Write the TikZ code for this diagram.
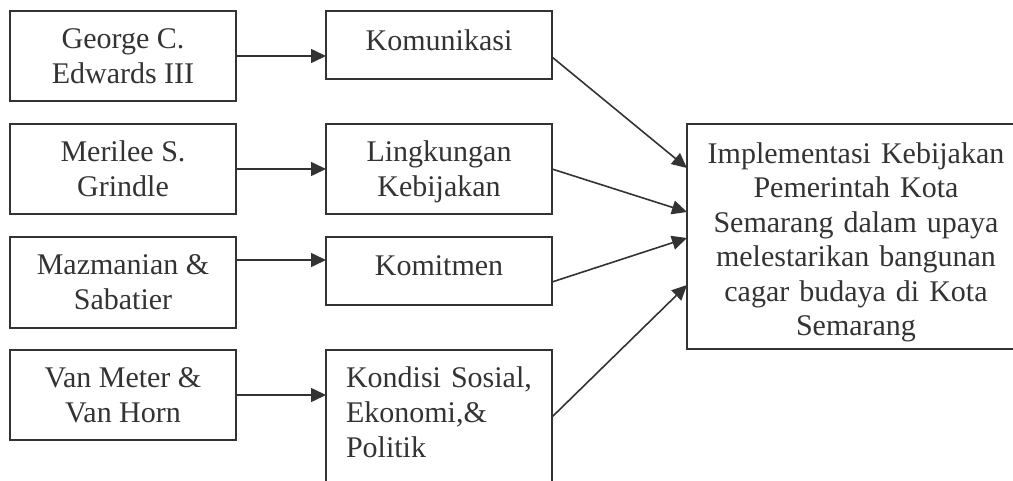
\documentclass[tikz,border=0pt]{standalone}
\usepackage{fontspec}
\setmainfont{Liberation Serif}
\usetikzlibrary{arrows.meta}
\definecolor{linegray}{HTML}{333333}

\begin{document}
\begin{tikzpicture}[x=1pt,y=-1pt,
	box/.style={draw=linegray,text=linegray,line width=1.6pt,inner sep=0pt,outer sep=0pt,
		align=center,minimum width=226pt,font=\fontsize{30}{35}\selectfont},
	link/.style={-{Triangle[length=15pt,width=14pt]},line width=1.6pt,draw=linegray}]
	
	\useasboundingbox (0,0) rectangle (1013,480);
	
	\node[box,minimum height=90pt] (ge) at (123,56)    {George C.\\Edwards III};
	\node[box,minimum height=90pt] (mg) at (123,169)   {Merilee S.\\Grindle};
	\node[box,minimum height=91pt] (ms) at (123,282.5) {Mazmanian \&\\Sabatier};
	\node[box,minimum height=90pt] (vm) at (123,395)   {Van Meter \&\\Van Horn};
	
	\node[box,minimum height=68pt,text depth=10pt] (kom) at (439,45)  {Komunikasi};
	\node[box,minimum height=90pt,text depth=0pt] (lk)  at (439,169) {Lingkungan\\Kebijakan};
	\node[box,minimum height=68pt,text depth=10pt] (kmt) at (439,271) {Komitmen};
	\node[box,align=left,anchor=north west,text width=186pt,inner xsep=20pt,inner ysep=17pt,
		text depth=115pt] (kon) at (326,350) {Kondisi Sosial,\\Ekonomi,\&\\Politik};
	
	\node[box,minimum width=338pt,minimum height=225pt,text width=330pt,text height=32pt,
		font=\fontsize{30}{34.5}\selectfont] (imp) at (856,236.5)
		{Implementasi Kebijakan\\Pemerintah Kota\\Semarang dalam upaya\\melestarikan bangunan\\cagar budaya di Kota\\Semarang};
	
	\path (ge.east) edge[link] (ge.east -| kom.west);
	\path (mg.east) edge[link] (mg.east -| lk.west);
	\path ([yshift=22.5pt]ms.east) edge[link] ([yshift=22.5pt]ms.east -| kmt.west);
	\path (vm.east) edge[link] (vm.east -| kon.west);
	
	\path ([yshift=-12pt]kom.east) edge[link] ([yshift=-44pt]imp.north west);
	\path (lk.east) edge[link] ([yshift=-88pt]imp.north west);
	\path ([yshift=-11pt]kmt.east) edge[link] ([yshift=-114pt]imp.north west);
	\path ([yshift=-67pt]kon.north east) edge[link] ([yshift=-161pt]imp.north west);
	
\end{tikzpicture}
\end{document}
